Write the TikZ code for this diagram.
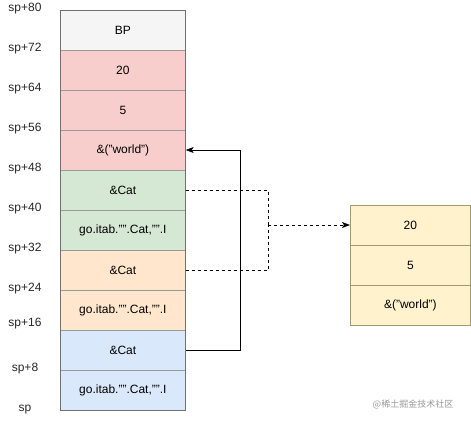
\documentclass[tikz,border=0pt]{standalone}
\usepackage{fontspec}
\setmainfont{Liberation Sans}
\newfontfamily\cjk{Noto Sans CJK SC}
\usetikzlibrary{arrows.meta}
\definecolor{bpfill}{HTML}{F5F5F5}
\definecolor{redfill}{HTML}{F8CECC}
\definecolor{greenfill}{HTML}{D5E8D4}
\definecolor{orangefill}{HTML}{FFE6CC}
\definecolor{bluefill}{HTML}{DAE8FC}
\definecolor{yellowfill}{HTML}{FFF2CC}
\definecolor{cellline}{HTML}{9A9A9A}
\definecolor{outline}{HTML}{707070}
\definecolor{yline}{HTML}{A09A70}
\begin{document}
\begin{tikzpicture}[x=1pt,y=-1pt,
  font=\fontsize{12}{14}\selectfont,
  cell/.style={draw=cellline, line width=0.7pt, minimum width=125pt, minimum height=40pt, inner sep=0pt, anchor=north west},
  ycell/.style={draw=yline, line width=0.8pt, fill=yellowfill, minimum width=120pt, minimum height=40pt, inner sep=0pt, anchor=north west},
  lbl/.style={inner sep=0pt, text=black!85},
  conn/.style={line width=0.8pt, black},
  dconn/.style={conn, dash pattern=on 3pt off 3pt},
  tip/.style={-{Stealth[length=8pt,width=6pt,inset=2pt]}}
]
\useasboundingbox (0,0) rectangle (471,421);
% stack cells
\node[cell, fill=bpfill] (bp) at (60,10) {BP};
\node[cell, fill=redfill] (r20) at (60,50) {20};
\node[cell, fill=redfill] (r5) at (60,90) {5};
\node[cell, fill=redfill] (rw) at (60,130) {\&("world")};
\node[cell, fill=greenfill] (gcat) at (60,170) {\&Cat};
\node[cell, fill=greenfill] (gitab) at (60,210) {go.itab."".Cat,"".I};
\node[cell, fill=orangefill] (ocat) at (60,250) {\&Cat};
\node[cell, fill=orangefill] (oitab) at (60,290) {go.itab."".Cat,"".I};
\node[cell, fill=bluefill] (bcat) at (60,330) {\&Cat};
\node[cell, fill=bluefill] (bitab) at (60,370) {go.itab."".Cat,"".I};
\draw[outline, line width=0.8pt] (bp.north west) rectangle (bitab.south east);
% right box
\node[ycell] (y20) at (350,205) {20};
\node[ycell] (y5) at (350,245) {5};
\node[ycell] (yw) at (350,285) {\&("world")};
% labels
\node[lbl] (l80) at (25,9) {sp+80};
\node[lbl] (l72) at (25,49) {sp+72};
\node[lbl] (l64) at (25,89) {sp+64};
\node[lbl] (l56) at (25,129) {sp+56};
\node[lbl] (l48) at (25,169) {sp+48};
\node[lbl] (l40) at (25,209) {sp+40};
\node[lbl] (l32) at (25,249) {sp+32};
\node[lbl] (l24) at (25,289) {sp+24};
\node[lbl] (l16) at (25,324) {sp+16};
\node[lbl] (l8) at (25,369) {sp+8};
\node[lbl] (l0) at (25,410) {sp};
% connectors
\coordinate (jd) at (268,225);
\draw[dconn] (gcat.east) -| (jd);
\draw[dconn] (ocat.east) -| (jd);
\draw[dconn, tip] (jd) -- (y20.west |- jd);
\coordinate (js) at (240,150);
\draw[conn, tip] (bcat.east) -| (js) -- (rw.east |- js);
% watermark
\node[inner sep=0pt, text=black!40, font=\cjk\fontsize{9}{10}\selectfont] (wm) at (413,404) {@稀土掘金技术社区};
\end{tikzpicture}
\end{document}
